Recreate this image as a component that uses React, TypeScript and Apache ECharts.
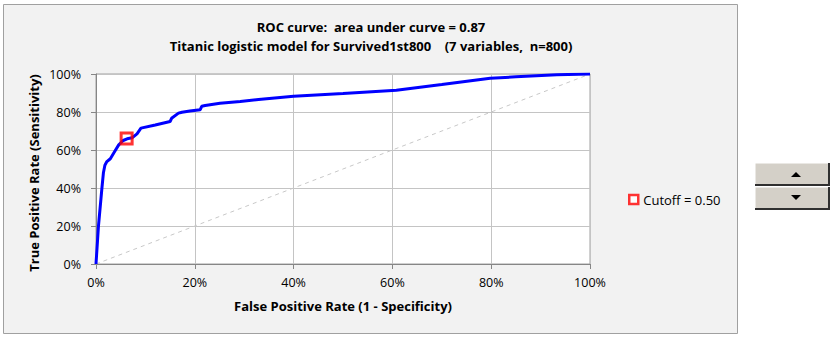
import React, { useEffect, useRef } from "react";
import * as echarts from "echarts";

const titleLine1 = "ROC curve:  area under curve = 0.87";
const titleLine2 = "Titanic logistic model for Survived1st800    (7 variables,  n=800)";
const xAxisTitle = "False Positive Rate (1 - Specificity)";
const yAxisTitle = "True Positive Rate (Sensitivity)";
const cutoffLabel = "Cutoff = 0.50";

// ROC curve points (percent)
const fpr = [0, 0.5, 1.2, 1.5, 1.8, 2.2, 2.9, 3.9, 4.6, 5.5, 6.3, 7.3, 8.3, 9.1, 12, 15.0, 15.3, 16.7, 17.4, 19, 21.1, 21.4, 22.1, 25.1, 29.2, 32.9, 40, 50, 60.8, 70, 79.8, 85, 93.3, 100];
const tpr = [0, 20, 40, 48, 52, 53.9, 55.4, 59.7, 62.7, 65, 65.9, 66.4, 68.5, 71.5, 73.2, 75, 76.7, 79.4, 79.9, 80.5, 81.2, 83, 83.4, 84.6, 85.5, 86.6, 88.3, 89.8, 91.5, 94.5, 97.8, 98.5, 99.6, 100];
const diagonalX = [0, 100];
const diagonalY = [0, 100];
const cutoffPoint = [6.2, 66];

const FONT = "'Open Sans', 'Noto Sans', sans-serif";

export default function App() {
  const ref = useRef<HTMLDivElement>(null);
  useEffect(() => {
    if (!ref.current) return;
    const chart = echarts.init(ref.current, null, { renderer: "svg" });
    const curve = fpr.map((x, i) => [x, tpr[i]]);
    const diag = diagonalX.map((x, i) => [x, diagonalY[i]]);
    chart.setOption({
      animation: false,
      backgroundColor: "#ffffff",
      textStyle: { fontFamily: FONT },
      grid: {
        left: 96,
        top: 74,
        width: 494,
        height: 190,
        show: true,
        backgroundColor: "#ffffff",
        borderColor: "#a0a0a0",
        borderWidth: 1,
      },
      legend: {
        left: 623,
        top: 188,
        itemWidth: 9,
        itemHeight: 9,
        itemGap: 6,
        data: [
          {
            name: cutoffLabel,
            icon: "rect",
            itemStyle: { color: "#ffffff", borderColor: "#ff0000", borderWidth: 2.5 },
          },
        ],
        textStyle: { fontFamily: FONT, fontSize: 13, color: "#000000" },
      },
      xAxis: {
        type: "value",
        min: 0,
        max: 100,
        interval: 20,
        axisLine: { show: true, lineStyle: { color: "#868686" } },
        axisTick: { show: true, length: 5, lineStyle: { color: "#868686" } },
        splitLine: { show: true, lineStyle: { color: "#c4c4c4" } },
        axisLabel: { formatter: "{value}%", margin: 12, fontSize: 12.5, color: "#000000", fontFamily: FONT },
      },
      yAxis: {
        type: "value",
        min: 0,
        max: 100,
        interval: 20,
        axisLine: { show: true, lineStyle: { color: "#868686" } },
        axisTick: { show: true, length: 5, lineStyle: { color: "#868686" } },
        splitLine: { show: true, lineStyle: { color: "#c4c4c4" } },
        axisLabel: { formatter: "{value}%", margin: 15, fontSize: 12.5, color: "#000000", fontFamily: FONT },
      },
      series: [
        {
          type: "line",
          data: diag,
          symbol: "none",
          silent: true,
          lineStyle: { color: "#c8c8c8", width: 1, type: [4, 4] },
          z: 1,
        },
        {
          type: "line",
          data: curve,
          symbol: "none",
          lineStyle: { color: "#0000ff", width: 3 },
          z: 2,
        },
        {
          name: cutoffLabel,
          type: "scatter",
          data: [cutoffPoint],
          symbol: "rect",
          symbolSize: 11,
          itemStyle: { color: "rgba(255,255,255,0)", borderColor: "#ff0000", borderWidth: 3 },
          z: 3,
        },
      ],
      graphic: [
        {
          type: "rect",
          z: -10,
          shape: { x: 3.5, y: 4.5, width: 734, height: 329 },
          style: { fill: "#f2f2f2", stroke: "#a0a0a0", lineWidth: 1 },
        },
        {
          type: "text",
          x: 371,
          y: 27,
          style: { text: titleLine1, fontFamily: FONT, fontWeight: "bold", fontSize: 13, fill: "#000", align: "center", verticalAlign: "middle" },
        },
        {
          type: "text",
          x: 371,
          y: 46,
          style: { text: titleLine2, fontFamily: FONT, fontWeight: "bold", fontSize: 13, fill: "#000", align: "center", verticalAlign: "middle" },
        },
        {
          type: "text",
          x: 343,
          y: 306,
          style: { text: xAxisTitle, fontFamily: FONT, fontWeight: "bold", fontSize: 13, fill: "#000", align: "center", verticalAlign: "middle" },
        },
        {
          type: "text",
          x: 34,
          y: 173,
          rotation: Math.PI / 2,
          style: { text: yAxisTitle, fontFamily: FONT, fontWeight: "bold", fontSize: 13, fill: "#000", align: "center", verticalAlign: "middle" },
        },
        // spinner buttons
        {
          type: "rect",
          shape: { x: 755, y: 163, width: 74, height: 22 },
          style: { fill: "#d4d0c8", stroke: "#ffffff", lineWidth: 1 },
        },
        {
          type: "polyline",
          shape: { points: [[755, 185], [829, 185], [829, 163]] },
          style: { stroke: "#303030", lineWidth: 2, fill: null },
        },
        {
          type: "rect",
          shape: { x: 755, y: 187, width: 74, height: 22 },
          style: { fill: "#d4d0c8", stroke: "#ffffff", lineWidth: 1 },
        },
        {
          type: "polyline",
          shape: { points: [[755, 209], [829, 209], [829, 187]] },
          style: { stroke: "#303030", lineWidth: 2, fill: null },
        },
        {
          type: "polygon",
          shape: { points: [[791, 177], [801, 177], [796, 172]] },
          style: { fill: "#000000" },
        },
        {
          type: "polygon",
          shape: { points: [[791, 195], [801, 195], [796, 200]] },
          style: { fill: "#000000" },
        },
      ],
    });
    return () => chart.dispose();
  }, []);
  return (
    <div style={{ position: "absolute", left: 0, top: 0, width: 833, height: 338 }}>
      <div ref={ref} style={{ width: 833, height: 338 }} />
    </div>
  );
}
